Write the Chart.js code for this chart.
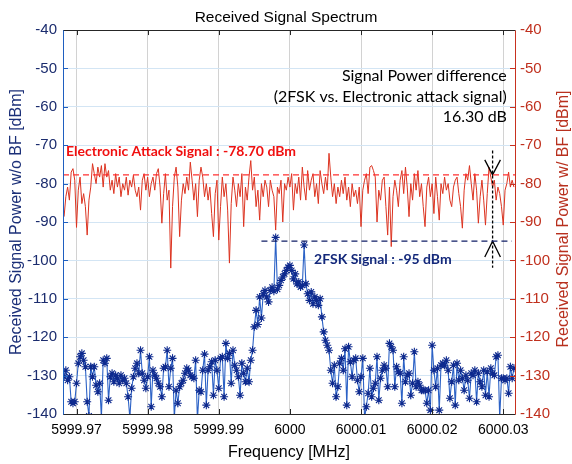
<!DOCTYPE html>
<html>
<head>
<meta charset="utf-8">
<script src="https://cdn.jsdelivr.net/npm/chart.js@4.4.1/dist/chart.umd.min.js"></script>
<style>
  body { margin: 0; background: #fff; }
  canvas { display: block; }
</style>
</head>
<body>
<canvas id="spectrum" width="572" height="464"></canvas>
<script>
// frequency grid: offset from 6000 MHz, in kHz
const fStart = -31.75;
const fStep = 0.25;

// received power without beamforming (2FSK signal), dBm
const powerNoBF = [
  -130.3, -128.6, -131.2, -130.3, -136.8, -137.2, -136.8, -132.0, -126.8, -125.1,
  -124.2, -126.0, -127.7, -136.8, -140.5, -127.7, -130.3, -127.7, -132.5, -134.2,
  -132.0, -141.0, -126.0, -126.8, -125.5, -136.4, -130.3, -129.4, -131.6, -129.9,
  -130.7, -132.0, -129.9, -131.2, -130.7, -132.0, -135.5, -141.0, -133.3, -130.3,
  -128.1, -126.8, -129.4, -123.4, -129.4, -131.2, -133.3, -130.3, -125.1, -138.1,
  -128.6, -129.9, -130.7, -132.0, -132.9, -135.5, -128.1, -127.7, -123.4, -132.9,
  -128.1, -125.5, -141.0, -133.8, -137.2, -132.9, -132.0, -131.2, -129.4, -128.1,
  -128.6, -129.9, -130.3, -130.7, -126.0, -141.5, -133.8, -134.2, -128.6, -124.4,
  -137.7, -128.6, -127.7, -126.4, -135.1, -126.0, -128.6, -133.3, -125.5, -125.1,
  -135.5, -121.6, -125.5, -124.2, -132.0, -123.4, -127.3, -128.6, -130.3, -135.1,
  -126.8, -129.4, -131.6, -128.1, -131.6, -126.0, -123.4, -117.3,
  -113.0, -116.7, -109.5, -115.0, -108.7, -107.8, -109.5, -110.8, -107.8, -107.0,
  -108.0, -94.0, -107.5, -106.5, -105.2, -104.3, -103.5, -102.6, -101.8, -101.3,
  -102.6, -104.8, -103.5, -106.1, -105.6, -106.9, -106.5, -96.0, -106.1, -108.7,
  -110.4, -108.2, -111.3, -109.5, -110.4, -111.7, -110.0, -114.7, -118.6, -120.8,
  -122.1, -123.4, -128.6, -132.0, -127.3, -135.5, -132.9, -126.8, -125.5, -128.6,
  -123.0, -137.7, -122.5, -126.4, -130.3, -126.0, -125.5, -131.2, -134.2, -130.3,
  -125.5, -141.0, -138.1, -134.6, -128.1, -135.5, -133.3, -132.0, -125.1, -136.4,
  -130.7, -128.6, -127.3, -128.1, -132.9, -121.6, -122.5, -123.4, -132.9, -127.7,
  -129.0, -129.4, -137.2, -125.1, -131.6, -129.9, -129.4, -135.1, -132.0, -123.8,
  -132.9, -131.6, -132.5, -133.8, -133.8, -133.8, -137.2, -133.8, -139.0, -122.1,
  -128.6, -132.9, -128.1, -139.0, -127.3, -126.8, -127.3, -126.0, -128.6, -135.9,
  -131.6, -127.3, -137.7, -126.8, -131.2, -128.6, -130.7, -133.8, -129.9, -131.2,
  -135.9, -129.4, -129.9, -128.6, -136.8, -129.4, -131.6, -132.9, -128.6, -135.1,
  -129.0, -135.5, -128.1, -129.4, -129.9, -125.1, -124.7, -141.0, -130.7, -130.7,
  -131.2, -130.7, -134.6, -127.7, -130.7, -128.1
];

// received power with beamforming (electronic attack signal), dBm
const powerBF = [
  -88.6, -83.4, -80.9, -84.3, -77.0, -76.1, -79.1, -91.4, -81.7, -78.3,
  -85.2, -82.6, -86.0, -93.4, -84.3, -80.9, -74.8, -77.4, -80.0, -75.7,
  -78.3, -75.3, -80.9, -74.8, -78.3, -76.6, -81.7, -79.1, -82.6, -77.4,
  -80.9, -78.3, -83.4, -80.0, -81.7, -78.3, -83.0, -79.1, -80.9, -77.8,
  -81.7, -83.4, -80.9, -86.9, -79.1, -77.4, -81.7, -78.3, -83.4, -80.0,
  -78.3, -81.7, -77.4, -76.1, -80.9, -90.3, -82.6, -77.4, -84.3, -81.7,
  -102.0, -86.0, -78.3, -75.7, -80.9, -93.8, -84.3, -80.0, -82.6, -78.3,
  -81.7, -74.4, -79.1, -84.3, -80.0, -88.6, -79.1, -75.7, -78.3, -83.4,
  -80.0, -84.3, -80.9, -87.8, -93.8, -82.6, -79.1, -94.7, -86.0, -78.3,
  -83.4, -80.0, -86.9, -100.7, -85.2, -78.3, -81.7, -86.0, -80.0, -83.4,
  -77.4, -91.2, -80.9, -84.3, -78.3, -74.0, -81.7, -78.3, -86.0, -81.7,
  -89.5, -80.0, -83.4, -79.1, -80.9, -86.0, -79.1, -81.7, -83.4, -92.1,
  -80.9, -82.6, -79.1, -90.0, -80.0, -81.7, -78.3, -80.9,
  -77.4, -86.9, -80.0, -82.6, -78.3, -84.3, -75.7, -80.9, -84.3, -76.6,
  -81.7, -79.1, -77.4, -83.4, -80.0, -85.2, -76.6, -80.0, -82.6, -78.3,
  -81.7, -72.1, -78.3, -83.4, -80.0, -85.2, -80.9, -83.4, -79.1, -82.6,
  -78.3, -84.3, -80.9, -86.0, -80.0, -83.4, -81.7, -85.2, -80.9, -91.2,
  -81.7, -79.1, -77.4, -82.6, -75.7, -75.3, -76.6, -78.3, -90.0, -81.7,
  -84.3, -79.1, -78.3, -86.0, -93.4, -80.9, -96.4, -83.4, -79.1, -81.7,
  -86.0, -79.1, -76.6, -82.6, -75.7, -80.9, -88.6, -80.0, -84.3, -77.4,
  -81.7, -76.6, -83.4, -80.0, -86.0, -91.2, -80.9, -78.3, -83.4, -80.0,
  -87.8, -78.3, -83.4, -89.5, -80.0, -82.6, -78.3, -81.7, -80.0, -84.3,
  -86.0, -80.9, -79.1, -78.3, -82.6, -86.0, -91.6, -81.7, -77.4, -79.1,
  -75.3, -80.0, -84.3, -77.4, -81.7, -90.3, -83.4, -79.1, -84.3, -90.8,
  -82.6, -75.7, -78.3, -80.9, -79.1, -84.3, -80.9, -82.6, -86.0, -90.8,
  -81.7, -80.0, -77.0, -80.9, -79.1, -80.9
];

// axis ticks
const xTickValues = [-30, -20, -10, 0, 10, 20, 30];
const xTickLabels = ['5999.97', '5999.98', '5999.99', '6000', '6000.01', '6000.02', '6000.03'];
const yTickValues = [-140, -130, -120, -110, -100, -90, -80, -70, -60, -50, -40];

// levels marked on the plot
const eaLevel = -77.7;
const fskLevel = -95;
const markerFreq = 28.5;

const freqKHz = powerNoBF.map((_, i) => fStart + i * fStep);
const toPoints = arr => arr.map((v, i) => ({ x: freqKHz[i], y: v }));

const blueAxis = '#1f5fc0';
const redAxis = '#c8311f';
const sans = 'Liberation Sans, Arial, sans-serif';
const calib = 'Lato, "Open Sans", sans-serif';

const axesFrame = {
  id: 'axesFrame',
  afterDatasetsDraw(chart) {
    const { ctx, chartArea: a, scales } = chart;
    const line = (x1, y1, x2, y2, c) => {
      ctx.strokeStyle = c;
      ctx.beginPath();
      ctx.moveTo(x1, y1);
      ctx.lineTo(x2, y2);
      ctx.stroke();
    };
    ctx.save();
    ctx.lineWidth = 1;
    xTickValues.forEach(v => {
      const px = Math.round(scales.x.getPixelForValue(v)) + 0.5;
      line(px, a.bottom, px, a.bottom - 5, '#262626');
      line(px, a.top, px, a.top + 5, '#262626');
    });
    yTickValues.forEach(v => {
      const py = Math.round(scales.y.getPixelForValue(v)) + 0.5;
      line(a.left, py, a.left + 5, py, blueAxis);
      line(a.right, py, a.right - 5, py, redAxis);
    });
    const t = Math.round(a.top) + 0.5, b = Math.round(a.bottom) + 0.5;
    const l = Math.round(a.left) + 0.5, r = Math.round(a.right) + 0.5;
    line(l, t, r, t, '#262626');
    line(l, b, r, b, '#262626');
    line(l, t, l, b, blueAxis);
    line(r, t, r, b, redAxis);
    ctx.restore();
  },
  afterDraw(chart) {
    const { ctx, chartArea: a, scales: { x, y } } = chart;
    ctx.save();
    // right axis title reads bottom to top like the left one
    ctx.translate(564, (a.top + a.bottom) / 2 - 3);
    ctx.rotate(-Math.PI / 2);
    ctx.fillStyle = '#b8301e';
    ctx.font = '16px ' + sans;
    ctx.textAlign = 'center';
    ctx.textBaseline = 'middle';
    ctx.fillText('Received Signal Power w/ BF [dBm]', 0, 0);
    ctx.restore();

    ctx.save();
    ctx.textBaseline = 'middle';
    ctx.font = 'bold 14px ' + calib;
    ctx.fillStyle = '#f01010';
    ctx.textAlign = 'left';
    ctx.fillText('Electronic Attack Signal : -78.70 dBm', a.left + 3, y.getPixelForValue(-71.6));
    ctx.fillStyle = '#14287a';
    ctx.fillText('2FSK Signal : -95 dBm', x.getPixelForValue(3.4), y.getPixelForValue(-99.7));
    ctx.font = '16px ' + calib;
    ctx.fillStyle = '#000';
    ctx.textAlign = 'right';
    const rx = x.getPixelForValue(30.5);
    ctx.fillText('Signal Power difference', rx, y.getPixelForValue(-52.0));
    ctx.fillText('(2FSK vs. Electronic attack signal)', rx, y.getPixelForValue(-57.3));
    ctx.fillText('16.30 dB', rx, y.getPixelForValue(-62.7));
    ctx.restore();
  }
};

const guide = (data, color, dash, order) => ({
  data, yAxisID: 'y', borderColor: color, borderWidth: 1.3, borderDash: dash,
  pointRadius: 0, fill: false, order
});

new Chart(document.getElementById('spectrum'), {
  type: 'line',
  data: {
    datasets: [
      guide([{ x: -31.9, y: eaLevel }, { x: 31.65, y: eaLevel }], '#ff3030', [6, 4], 0),
      guide([{ x: -4.0, y: fskLevel }, { x: 31.2, y: fskLevel }], '#101e66', [6, 4], 0),
      guide([{ x: markerFreq, y: -71.4 }, { x: markerFreq, y: -101.9 }], '#000', [3, 2], 0),
      guide([{ x: markerFreq - 1.1, y: eaLevel + 3.9 }, { x: markerFreq, y: eaLevel }, { x: markerFreq + 1.1, y: eaLevel + 3.9 }], '#000', [], 0),
      guide([{ x: markerFreq - 1.1, y: fskLevel - 4.1 }, { x: markerFreq, y: fskLevel }, { x: markerFreq + 1.1, y: fskLevel - 4.1 }], '#000', [], 0),
      {
        label: 'w/o BF',
        data: toPoints(powerNoBF),
        yAxisID: 'y',
        borderColor: '#2c62c6',
        borderWidth: 1.1,
        pointStyle: 'star',
        pointRadius: 4,
        pointBorderColor: '#0e2a8e',
        pointBackgroundColor: '#0e2a8e',
        pointBorderWidth: 1.1,
        order: 1
      },
      {
        label: 'w/ BF',
        data: toPoints(powerBF),
        yAxisID: 'y2',
        borderColor: '#dc3320',
        borderWidth: 1,
        pointRadius: 0,
        order: 2
      }
    ]
  },
  options: {
    responsive: false,
    animation: false,
    layout: { padding: 0 },
    plugins: {
      legend: { display: false },
      tooltip: { enabled: false },
      title: {
        display: true,
        text: 'Received Signal Spectrum',
        color: '#000',
        font: { family: sans, size: 15.5, weight: 'normal', lineHeight: 1.1 },
        padding: { top: 9, bottom: 4 }
      }
    },
    scales: {
      x: {
        type: 'linear',
        min: -31.9,
        max: 31.65,
        afterBuildTicks: s => { s.ticks = xTickValues.map(v => ({ value: v })); },
        afterFit: s => { s.height = 50; },
        ticks: {
          callback: v => xTickLabels[xTickValues.indexOf(v)],
          color: '#000',
          padding: 8,
          maxRotation: 0,
          font: { family: sans, size: 14 }
        },
        grid: { color: '#d2d2d2', drawTicks: false },
        border: { display: false },
        title: {
          display: true,
          text: 'Frequency [MHz]',
          color: '#000',
          font: { family: sans, size: 16 },
          padding: { bottom: 2 }
        }
      },
      y: {
        position: 'left',
        min: -140,
        max: -40,
        afterBuildTicks: s => { s.ticks = yTickValues.map(v => ({ value: v })); },
        afterFit: s => { s.width = 63; },
        ticks: { color: '#1b2c6e', padding: 6, font: { family: sans, size: 15 } },
        grid: { color: '#d3e5f4', drawTicks: false },
        border: { display: false },
        title: {
          display: true,
          text: 'Received Signal Power w/o BF [dBm]',
          color: '#1b2f78',
          font: { family: sans, size: 16 },
          padding: { top: 7 }
        }
      },
      y2: {
        position: 'right',
        min: -140,
        max: -40,
        afterBuildTicks: s => { s.ticks = yTickValues.map(v => ({ value: v })); },
        afterFit: s => { s.width = 57; },
        ticks: { color: '#c0301e', padding: 5, font: { family: sans, size: 15 } },
        grid: { display: false, drawTicks: false },
        border: { display: false }
      }
    }
  },
  plugins: [axesFrame]
});
</script>
</body>
</html>
